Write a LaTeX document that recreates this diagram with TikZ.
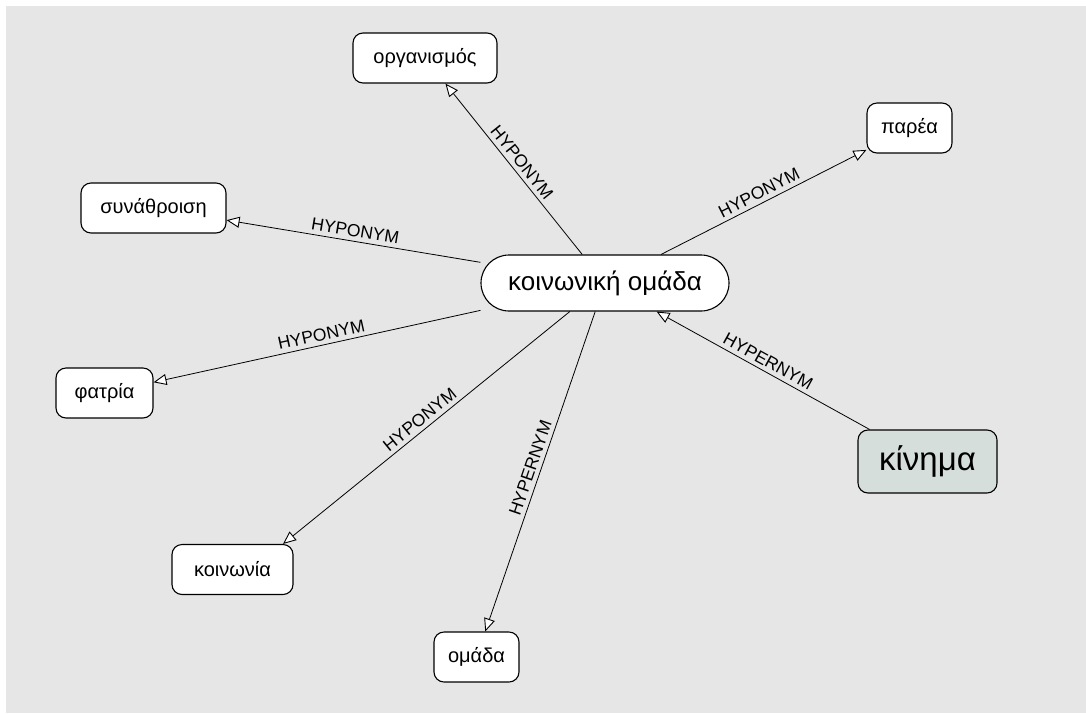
\documentclass[tikz,border=0pt]{standalone}
\usepackage{fontspec}
\setmainfont{Liberation Sans}
\usetikzlibrary{arrows.meta}
\definecolor{bggray}{RGB}{230,230,230}
\definecolor{kinfill}{RGB}{214,222,220}
\begin{document}
\begin{tikzpicture}[x=1pt,y=-1pt,
  box/.style={draw=black, line width=1.1pt, fill=white, rounded corners=10pt, inner sep=0pt,
    minimum height=50pt, font=\fontsize{20}{24}\selectfont},
  rel/.style={draw=black, line width=0.8pt,
    -{Triangle[length=13pt,width=11pt,fill=white,line width=0.9pt]}},
  lbl/.style={sloped, above=3pt, inner sep=1pt, font=\fontsize{17.5}{20}\selectfont, pos=0.5}
]
\useasboundingbox (0,0) rectangle (1086,713);
\fill[white] (0,0) rectangle (1086,713);
\fill[bggray] (6,6) rectangle (1086,713);

\node[box, minimum width=248pt, minimum height=56pt, rounded corners=28pt,
  font=\fontsize{26}{30}\selectfont] (cen) at (605,283) {κοινωνική ομάδα};
\node[box, minimum width=144pt] (org) at (425,58) {οργανισμός};
\node[box, minimum width=85pt] (par) at (909.5,128) {παρέα};
\node[box, minimum width=145pt] (syn) at (153.5,208) {συνάθροιση};
\node[box, minimum width=97pt] (fat) at (104.5,393) {φατρία};
\node[box, minimum width=121pt] (koi) at (232.5,569.5) {κοινωνία};
\node[box, minimum width=85pt] (oma) at (476.5,657) {ομάδα};
\node[box, minimum width=139pt, minimum height=63pt, fill=kinfill,
  font=\fontsize{33}{38}\selectfont] (kin) at (927.5,461.5) {κίνημα};

\draw[rel] (cen) -- node[lbl]{HYPONYM} (org);
\draw[rel] (cen) -- node[lbl]{HYPONYM} (par);
\draw[rel] (cen) -- node[lbl]{HYPONYM} (syn);
\draw[rel] (cen) -- node[lbl,pos=0.48]{HYPONYM} (fat);
\draw[rel] (cen) -- node[lbl]{HYPONYM} ([xshift=50.5pt]koi.north);
\draw[rel] (cen) -- node[lbl]{HYPERNYM} (oma);
\draw[rel] (kin) -- node[lbl]{HYPERNYM} (cen);
\end{tikzpicture}
\end{document}
